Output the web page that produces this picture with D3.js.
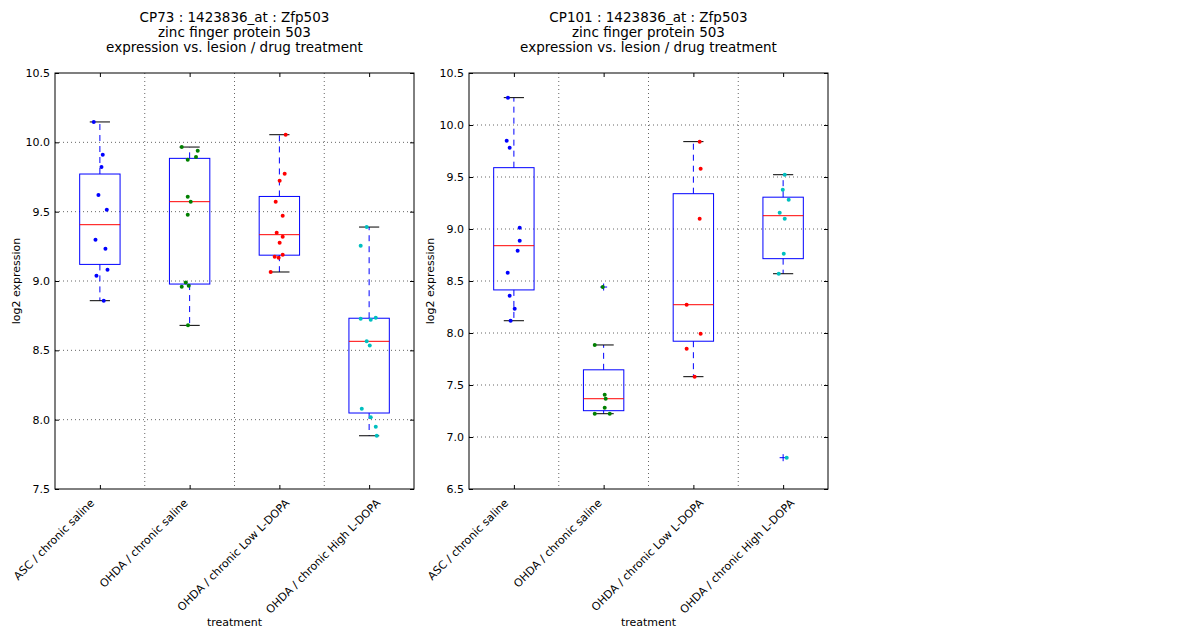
<!DOCTYPE html>
<html>
<head>
<meta charset="utf-8">
<script src="https://cdn.jsdelivr.net/npm/d3@7"></script>
<style>
  body { margin: 0; background: #fff; }
  svg text { font-family: "DejaVu Sans", sans-serif; fill: #000; }
</style>
</head>
<body>
<div id="chart"></div>
<script>
// treatment groups shared by both panels
const categories = [
    "ASC / chronic saline",
    "OHDA / chronic saline",
    "OHDA / chronic Low L-DOPA",
    "OHDA / chronic High L-DOPA"
];
const groupColors = ["#0000ff", "#008000", "#ff0000", "#00bfbf"];

// CP73 panel: log2 expression per sample, jitter in category units
const cp73Values = [
    [10.147, 9.911, 9.822, 9.620, 9.514, 9.298, 9.233, 9.082, 9.038, 8.858],
    [9.966, 9.940, 9.894, 9.875, 9.608, 9.572, 9.478, 8.990, 8.959, 8.966, 8.680],
    [10.055, 9.774, 9.723, 9.572, 9.471, 9.348, 9.320, 9.276, 9.190, 9.175, 9.168, 9.065],
    [9.389, 9.255, 8.728, 8.721, 8.735, 8.565, 8.534, 8.079, 8.017, 7.949, 7.884]
];
const cp73Jitter = [
    [-0.068, 0.032, 0.018, -0.016, 0.077, -0.049, 0.062, 0.085, -0.038, 0.043],
    [-0.088, 0.090, 0.071, -0.021, -0.021, 0.012, -0.021, -0.043, -0.088, -0.010, -0.018],
    [0.070, 0.059, 0.003, -0.041, 0.037, -0.030, 0.037, 0.003, 0.037, -0.052, -0.008, -0.097],
    [-0.027, -0.094, -0.094, 0.018, 0.074, -0.027, 0.007, -0.082, 0.018, 0.074, 0.085]
];
const cp73Ticks = [7.5, 8.0, 8.5, 9.0, 9.5, 10.0, 10.5];

// CP101 panel
const cp101Values = [
    [10.263, 9.849, 9.782, 9.013, 8.888, 8.791, 8.580, 8.359, 8.234, 8.118],
    [8.442, 7.885, 7.407, 7.368, 7.282, 7.224, 7.224],
    [9.840, 9.580, 9.099, 8.272, 7.993, 7.849, 7.580],
    [9.522, 9.378, 9.282, 9.157, 9.099, 8.763, 8.570, 6.801]
];
const cp101Jitter = [
    [-0.066, -0.080, -0.047, 0.065, 0.065, 0.042, -0.069, -0.047, 0.009, -0.036],
    [-0.010, -0.099, 0.012, 0.023, 0.012, -0.099, 0.068],
    [0.070, 0.081, 0.070, -0.075, 0.081, -0.075, 0.014],
    [0.018, -0.004, 0.062, -0.038, 0.018, 0.007, -0.049, 0.040]
];
const cp101Ticks = [6.5, 7.0, 7.5, 8.0, 8.5, 9.0, 9.5, 10.0, 10.5];

const titleLines2 = "zinc finger protein 503";
const titleLines3 = "expression vs. lesion / drug treatment";

const panels = [
    { title: "CP73 : 1423836_at : Zfp503", values: cp73Values, jitter: cp73Jitter, ticks: cp73Ticks, left: 55 },
    { title: "CP101 : 1423836_at : Zfp503", values: cp101Values, jitter: cp101Jitter, ticks: cp101Ticks, left: 469 }
];

const width = 1200, height = 640;
const plotW = 359, plotTop = 73, plotBottom = 489;
const boxWidth = 0.45; // matplotlib default for 4 positions

const svg = d3.select("#chart").append("svg")
    .attr("width", width)
    .attr("height", height)
    .attr("viewBox", `0 0 ${width} ${height}`);

svg.append("rect").attr("width", width).attr("height", height).attr("fill", "#fff");

// matplotlib style box stats: linear quartiles, whiskers at 1.5 IQR
function boxStats(vals) {
    const s = vals.slice().sort(d3.ascending);
    const q1 = d3.quantileSorted(s, 0.25);
    const med = d3.quantileSorted(s, 0.5);
    const q3 = d3.quantileSorted(s, 0.75);
    const iqr = q3 - q1;
    const inside = s.filter(v => v >= q1 - 1.5 * iqr && v <= q3 + 1.5 * iqr);
    return {
        q1, med, q3,
        lo: d3.min(inside), hi: d3.max(inside),
        fliers: s.filter(v => v < q1 - 1.5 * iqr || v > q3 + 1.5 * iqr)
    };
}

panels.forEach(p => {
    const x = d3.scaleLinear().domain([0.5, 4.5]).range([0, plotW]);
    const y = d3.scaleLinear()
        .domain([d3.min(p.ticks), d3.max(p.ticks)])
        .range([plotBottom - plotTop, 0]);
    const h = plotBottom - plotTop;

    const g = svg.append("g").attr("transform", `translate(${p.left},${plotTop})`);

    // grid
    g.append("g").selectAll("line")
        .data(p.ticks.slice(1, -1))
        .enter().append("line")
        .attr("x1", 0).attr("x2", plotW)
        .attr("y1", d => y(d)).attr("y2", d => y(d))
        .attr("stroke", "#666").attr("stroke-dasharray", "1,3");
    g.append("g").selectAll("line")
        .data([1.5, 2.5, 3.5])
        .enter().append("line")
        .attr("y1", 0).attr("y2", h)
        .attr("x1", d => x(d)).attr("x2", d => x(d))
        .attr("stroke", "#666").attr("stroke-dasharray", "1,3");

    // boxes
    p.values.forEach((vals, i) => {
        const st = boxStats(vals);
        const cx = x(i + 1);
        const bw = x(1 + boxWidth / 2) - x(1);
        const cw = bw / 2;
        const bg = g.append("g").attr("class", "box");

        bg.append("line")
            .attr("x1", cx).attr("x2", cx)
            .attr("y1", y(st.q3)).attr("y2", y(st.hi))
            .attr("stroke", "#0000ff").attr("stroke-dasharray", "6,5");
        bg.append("line")
            .attr("x1", cx).attr("x2", cx)
            .attr("y1", y(st.q1)).attr("y2", y(st.lo))
            .attr("stroke", "#0000ff").attr("stroke-dasharray", "6,5");
        [st.hi, st.lo].forEach(v => {
            bg.append("line")
                .attr("x1", cx - cw).attr("x2", cx + cw)
                .attr("y1", y(v)).attr("y2", y(v))
                .attr("stroke", "#000");
        });
        bg.append("rect")
            .attr("x", cx - bw).attr("width", 2 * bw)
            .attr("y", y(st.q3)).attr("height", y(st.q1) - y(st.q3))
            .attr("fill", "none").attr("stroke", "#0000ff");
        bg.append("line")
            .attr("x1", cx - bw).attr("x2", cx + bw)
            .attr("y1", y(st.med)).attr("y2", y(st.med))
            .attr("stroke", "#ff0000");
        st.fliers.forEach(v => {
            bg.append("path")
                .attr("d", `M${cx - 3.5},${y(v)}H${cx + 3.5}M${cx},${y(v) - 3.5}V${y(v) + 3.5}`)
                .attr("stroke", "#0000ff");
        });
    });

    // jittered samples
    p.values.forEach((vals, i) => {
        g.append("g").selectAll("circle")
            .data(vals.map((v, j) => ({ v, dx: p.jitter[i][j] })))
            .enter().append("circle")
            .attr("cx", d => x(i + 1 + d.dx))
            .attr("cy", d => y(d.v))
            .attr("r", 2)
            .attr("fill", groupColors[i]);
    });

    // axes with inside ticks
    const yAxis = g.append("g")
        .call(d3.axisLeft(y).tickValues(p.ticks).tickSize(-4).tickPadding(5).tickFormat(d3.format(".1f")));
    g.append("g").attr("transform", `translate(${plotW},0)`)
        .call(d3.axisRight(y).tickValues(p.ticks).tickSize(-4).tickFormat(""));
    g.append("g").attr("transform", `translate(0,${h})`)
        .call(d3.axisBottom(x).tickValues([1, 2, 3, 4]).tickSize(-4).tickFormat(""));
    g.append("g")
        .call(d3.axisTop(x).tickValues([1, 2, 3, 4]).tickSize(-4).tickFormat(""));
    g.selectAll(".domain").remove();
    yAxis.selectAll("text").style("font-size", "11px").style("font-family", "DejaVu Sans");

    g.append("rect")
        .attr("width", plotW).attr("height", h)
        .attr("fill", "none").attr("stroke", "#000");

    // rotated category labels: rotated box centred a bit left of the tick, top under the axis
    g.append("g").selectAll("text")
        .data(categories)
        .enter().append("text")
        .attr("text-anchor", "middle")
        .attr("dy", "0.35em")
        .style("font-size", "11px")
        .text(d => d)
        .attr("transform", function(d, i) {
            const len = this.getComputedTextLength();
            return `translate(${x(i + 1) - 46},${h + 8 + len * 0.3536 + 4}) rotate(-45)`;
        });

    g.append("text")
        .attr("x", plotW / 2).attr("y", 553)
        .attr("text-anchor", "middle")
        .style("font-size", "11px")
        .text("treatment");

    g.append("text")
        .attr("transform", `translate(-35,${h / 2}) rotate(-90)`)
        .attr("text-anchor", "middle")
        .style("font-size", "11px")
        .text("log2 expression");

    const title = g.append("text")
        .attr("text-anchor", "middle")
        .style("font-size", "13.5px");
    [p.title, titleLines2, titleLines3].forEach((t, k) => {
        title.append("tspan")
            .attr("x", plotW / 2)
            .attr("y", -51 + k * 15)
            .text(t);
    });
});
</script>
</body>
</html>
